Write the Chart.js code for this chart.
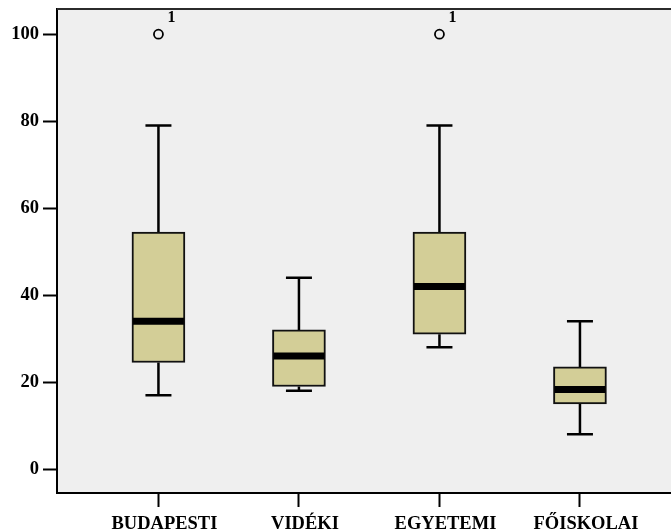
<!DOCTYPE html>
<html>
<head>
<meta charset="utf-8">
<script src="https://cdn.jsdelivr.net/npm/chart.js@4/dist/chart.umd.min.js"></script>
<style>
  html, body { margin: 0; padding: 0; background: #ffffff; }
  #wrap { width: 671px; height: 531px; }
</style>
</head>
<body>
<div id="wrap"><canvas id="c" width="671" height="531"></canvas></div>
<script>
// Box-plot summary per group
const categories  = ['BUDAPESTI', 'VIDÉKI', 'EGYETEMI', 'FŐISKOLAI'];
const whiskerLow  = [17, 18, 28, 8];
const q1          = [24.5, 19, 31, 15];
const median      = [34, 26, 42, 18.3];
const q3          = [54.5, 32, 54.5, 23.5];
const whiskerHigh = [79, 44, 79, 34];
// Outlying cases and their case numbers
const outlierValues = [[100], [], [100], []];
const outlierLabels = [['1'], [], ['1'], []];
const yTicks = [0, 20, 40, 60, 80, 100];

const FONT = { family: 'Liberation Serif', weight: 'bold', size: 18.5 };
const BOX_FILL = '#D3CE97';
const INK = '#000000';

const boxData = categories.map((c, i) => ({ x: i + 1, y: [q1[i], q3[i]] }));
const outlierData = [];
categories.forEach((c, i) => {
  outlierValues[i].forEach((v, k) => outlierData.push({ x: i + 1, y: v, label: outlierLabels[i][k] }));
});

const boxPlotPlugin = {
  id: 'boxPlot',
  beforeDraw(chart) {
    const { ctx, chartArea: a } = chart;
    ctx.save();
    ctx.fillStyle = '#EFEFEF';
    ctx.fillRect(a.left, a.top, a.right - a.left, a.bottom - a.top);
    ctx.restore();
  },
  beforeDatasetsDraw(chart) {
    // whiskers and caps, drawn under the boxes
    const { ctx, scales: { x, y } } = chart;
    ctx.save();
    ctx.strokeStyle = INK;
    ctx.lineWidth = 2.5;
    const capHalf = 13;
    categories.forEach((c, i) => {
      const px = x.getPixelForValue(i + 1);
      const yLo = y.getPixelForValue(whiskerLow[i]);
      const yHi = y.getPixelForValue(whiskerHigh[i]);
      const yQ1 = y.getPixelForValue(q1[i]);
      const yQ3 = y.getPixelForValue(q3[i]);
      ctx.beginPath();
      ctx.moveTo(px, yQ3); ctx.lineTo(px, yHi);
      ctx.moveTo(px, yQ1); ctx.lineTo(px, yLo);
      ctx.moveTo(px - capHalf, yHi); ctx.lineTo(px + capHalf, yHi);
      ctx.moveTo(px - capHalf, yLo); ctx.lineTo(px + capHalf, yLo);
      ctx.stroke();
    });
    ctx.restore();
  },
  afterDatasetsDraw(chart) {
    const { ctx, scales: { x, y } } = chart;
    const bars = chart.getDatasetMeta(0).data;
    ctx.save();
    // medians
    ctx.strokeStyle = INK;
    ctx.lineWidth = 7;
    bars.forEach((bar, i) => {
      const half = bar.width / 2 - 1;
      const py = y.getPixelForValue(median[i]);
      ctx.beginPath();
      ctx.moveTo(bar.x - half, py); ctx.lineTo(bar.x + half, py);
      ctx.stroke();
    });
    // case numbers beside outliers
    ctx.fillStyle = INK;
    ctx.font = 'bold 16px "Liberation Serif"';
    ctx.textAlign = 'left';
    ctx.textBaseline = 'middle';
    outlierData.forEach(p => {
      ctx.fillText(p.label, x.getPixelForValue(p.x) + 9, y.getPixelForValue(p.y) - 16);
    });
    ctx.restore();
  },
  afterDraw(chart) {
    const { ctx, chartArea: a } = chart;
    ctx.save();
    ctx.strokeStyle = '#2b2b2b';
    ctx.lineWidth = 2;
    ctx.beginPath();
    ctx.moveTo(a.left, a.top); ctx.lineTo(a.right, a.top);
    ctx.stroke();
    ctx.restore();
  }
};

new Chart(document.getElementById('c'), {
  type: 'bar',
  data: {
    datasets: [
      {
        type: 'bar',
        data: boxData,
        backgroundColor: BOX_FILL,
        borderColor: '#111111',
        borderWidth: 2,
        borderSkipped: false,
        barThickness: 53
      },
      {
        type: 'scatter',
        data: outlierData,
        pointStyle: 'circle',
        pointRadius: 4.5,
        pointBackgroundColor: '#EFEFEF',
        pointBorderColor: INK,
        pointBorderWidth: 1.8
      }
    ]
  },
  options: {
    responsive: false,
    animation: false,
    layout: { autoPadding: false, padding: { top: 9, right: 0, left: 0, bottom: 0 } },
    plugins: { legend: { display: false }, tooltip: { enabled: false } },
    scales: {
      x: {
        type: 'linear',
        min: 0.278,
        max: 4.648,
        offset: false,
        afterBuildTicks(scale) { scale.ticks = categories.map((c, i) => ({ value: i + 1 })); },
        afterFit(scale) {
          scale.height = 38;
          scale.paddingLeft = 0;
          scale.paddingRight = 0;
        },
        ticks: {
          autoSkip: false,
          maxRotation: 0,
          padding: 6,
          labelOffset: 6,
          color: INK,
          font: FONT,
          callback: (v) => categories[v - 1]
        },
        grid: { offset: false, drawOnChartArea: false, drawTicks: true, tickLength: 14, tickColor: INK, tickWidth: 2 },
        border: { display: true, color: INK, width: 2 }
      },
      y: {
        min: -5.5,
        max: 105.8,
        afterBuildTicks(scale) { scale.ticks = yTicks.map(v => ({ value: v })); },
        afterFit(scale) {
          scale.width = 57;
          scale.paddingTop = 0;
          scale.paddingBottom = 0;
        },
        ticks: { color: INK, font: FONT, padding: 4 },
        grid: { offset: false, drawOnChartArea: false, drawTicks: true, tickLength: 14, tickColor: INK, tickWidth: 2 },
        border: { display: true, color: INK, width: 2 }
      }
    }
  },
  plugins: [boxPlotPlugin]
});
</script>
</body>
</html>
